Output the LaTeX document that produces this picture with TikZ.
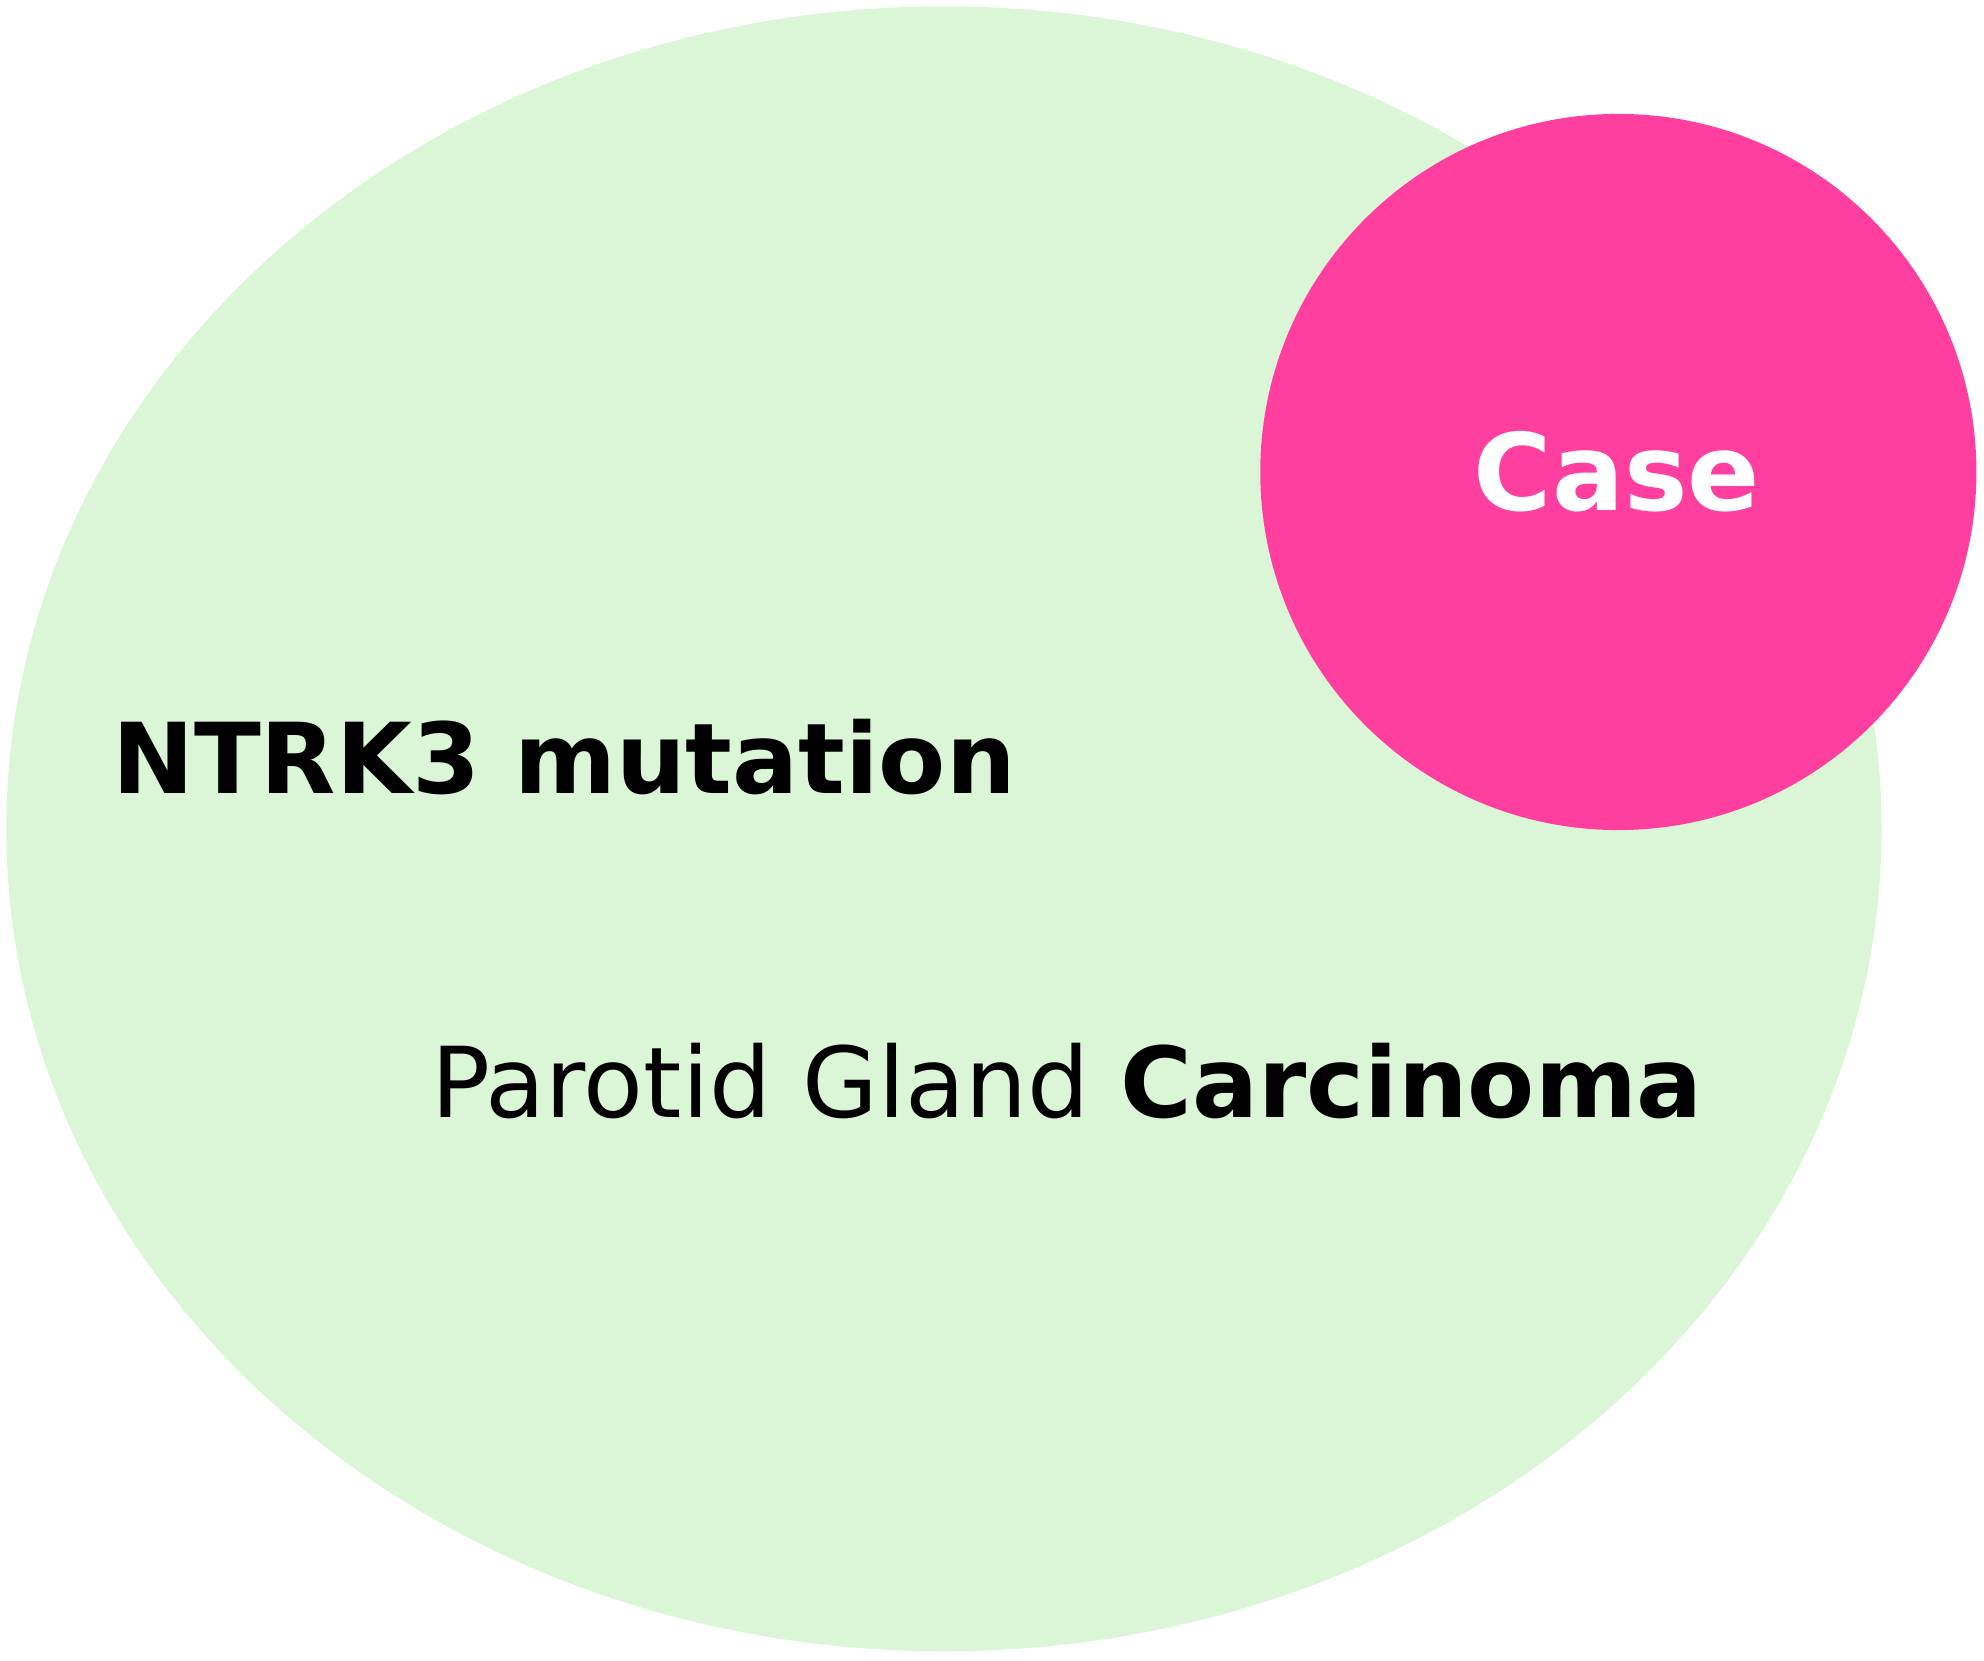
\documentclass[tikz,border=0pt]{standalone}
\usepackage{fontspec}
\setmainfont{DejaVu Sans}
\definecolor{setgreen}{HTML}{DBF6D7}
\definecolor{casepink}{HTML}{FF3FA0}
\tikzset{
  setlabel/.style={anchor=base west, inner sep=0pt, font=\fontsize{22}{26}\selectfont},
}
\begin{document}
\begin{tikzpicture}
\useasboundingbox (0,0) rectangle (15.68,-13.12);
\fill[setgreen] (7.46,-6.55) ellipse [x radius=7.41, y radius=6.50];
\fill[casepink] (12.79,-3.73) circle [radius=2.83];
\node[font=\bfseries\fontsize{24}{28}\selectfont, text=white] (case) at (12.78,-3.73) {Case};
\node[setlabel] (ntrk) at (0.88,-6.27) {\bfseries NTRK3 mutation};
\node[setlabel] (parotid) at (3.40,-8.83) {Parotid Gland \textbf{Carcinoma}};
\end{tikzpicture}
\end{document}
